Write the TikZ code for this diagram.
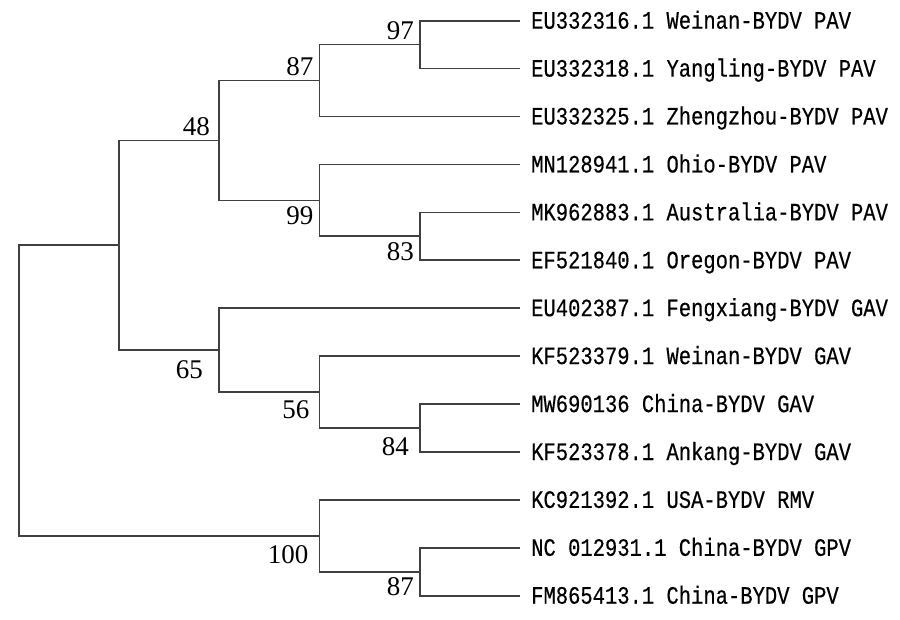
\documentclass[tikz,border=0pt]{standalone}
\usepackage{fontspec}
\setmainfont{Liberation Serif}
\newfontfamily\tipfont[FakeStretch=0.82,FakeBold=0.4]{Liberation Mono}
\usetikzlibrary{positioning}
\tikzset{branch/.style={draw=black!75,line width=1.7pt}}
\tikzset{taxon/.style={anchor=west,inner xsep=11pt,inner ysep=0pt,text height=16pt,text depth=0pt,font=\tipfont\fontsize{25}{25}\selectfont}}
\tikzset{boot/.style={inner sep=0pt,font=\fontsize{27}{27}\selectfont}}
\tikzset{boot above/.style={boot,anchor=south east,xshift=-6pt,yshift=5pt}}
\tikzset{boot below/.style={boot,anchor=north east,xshift=-6pt,yshift=-6pt}}
\tikzset{
	x=1pt,
	y=-1pt,
}

\begin{document}
\begin{tikzpicture}
\useasboundingbox (0,0) rectangle (900,620);

% tips
\node[taxon](t1) at(520,20.7) {EU332316.1 Weinan-BYDV PAV};
\node[taxon](t2) at(520,68.6) {EU332318.1 Yangling-BYDV PAV};
\node[taxon](t3) at(520,116.5) {EU332325.1 Zhengzhou-BYDV PAV};
\node[taxon](t4) at(520,164.5) {MN128941.1 Ohio-BYDV PAV};
\node[taxon](t5) at(520,212.4) {MK962883.1 Australia-BYDV PAV};
\node[taxon](t6) at(520,260.3) {EF521840.1 Oregon-BYDV PAV};
\node[taxon](t7) at(520,308.2) {EU402387.1 Fengxiang-BYDV GAV};
\node[taxon](t8) at(520,356.1) {KF523379.1 Weinan-BYDV GAV};
\node[taxon](t9) at(520,404.1) {MW690136 China-BYDV GAV};
\node[taxon](t10) at(520,452.0) {KF523378.1 Ankang-BYDV GAV};
\node[taxon](t11) at(520,499.9) {KC921392.1 USA-BYDV RMV};
\node[taxon](t12) at(520,547.8) {NC 012931.1 China-BYDV GPV};
\node[taxon](t13) at(520,595.7) {FM865413.1 China-BYDV GPV};

% inner nodes
\coordinate(n1) at(420,44.65);
\coordinate(n2) at(319.5,80.6);
\coordinate(n3) at(420,236.35);
\coordinate(n4) at(319.5,200.4);
\coordinate(n5) at(219,140.5);
\coordinate(n6) at(420,428.05);
\coordinate(n7) at(319.5,392.1);
\coordinate(n8) at(219,350.15);
\coordinate(n9) at(119,245.3);
\coordinate(n10) at(420,571.75);
\coordinate(n11) at(319.5,535.8);
\coordinate(r) at(19,390.55);

\draw[branch] (n1) |- (t1.west);
\draw[branch] (n1) |- (t2.west);
\draw[branch] (n2) |- (n1);
\draw[branch] (n2) |- (t3.west);
\draw[branch] (n3) |- (t5.west);
\draw[branch] (n3) |- (t6.west);
\draw[branch] (n4) |- (t4.west);
\draw[branch] (n4) |- (n3);
\draw[branch] (n5) |- (n2);
\draw[branch] (n5) |- (n4);
\draw[branch] (n6) |- (t9.west);
\draw[branch] (n6) |- (t10.west);
\draw[branch] (n7) |- (t8.west);
\draw[branch] (n7) |- (n6);
\draw[branch] (n8) |- (t7.west);
\draw[branch] (n8) |- (n7);
\draw[branch] (n9) |- (n5);
\draw[branch] (n9) |- (n8);
\draw[branch] (n10) |- (t12.west);
\draw[branch] (n10) |- (t13.west);
\draw[branch] (n11) |- (t11.west);
\draw[branch] (n11) |- (n10);
\draw[branch] (r) |- (n9);
\draw[branch] (r) |- (n11);

% bootstrap values
\node[boot above](b1) at(n1) {97};
\node[boot above](b2) at(n2) {87};
\node[boot above,xshift=-3pt](b5) at(n5) {48};
\node[boot below](b4) at(n4) {99};
\node[boot below](b3) at(n3) {83};
\node[boot below,xshift=-10pt,yshift=-4pt](b8) at(n8) {65};
\node[boot below,xshift=-4pt,yshift=-2pt](b7) at(n7) {56};
\node[boot below,xshift=-5pt,yshift=-3pt](b6) at(n6) {84};
\node[boot below,xshift=-5pt,yshift=-4pt](b11) at(n11) {100};
\node[boot below](b10) at(n10) {87};

\end{tikzpicture}
\end{document}
